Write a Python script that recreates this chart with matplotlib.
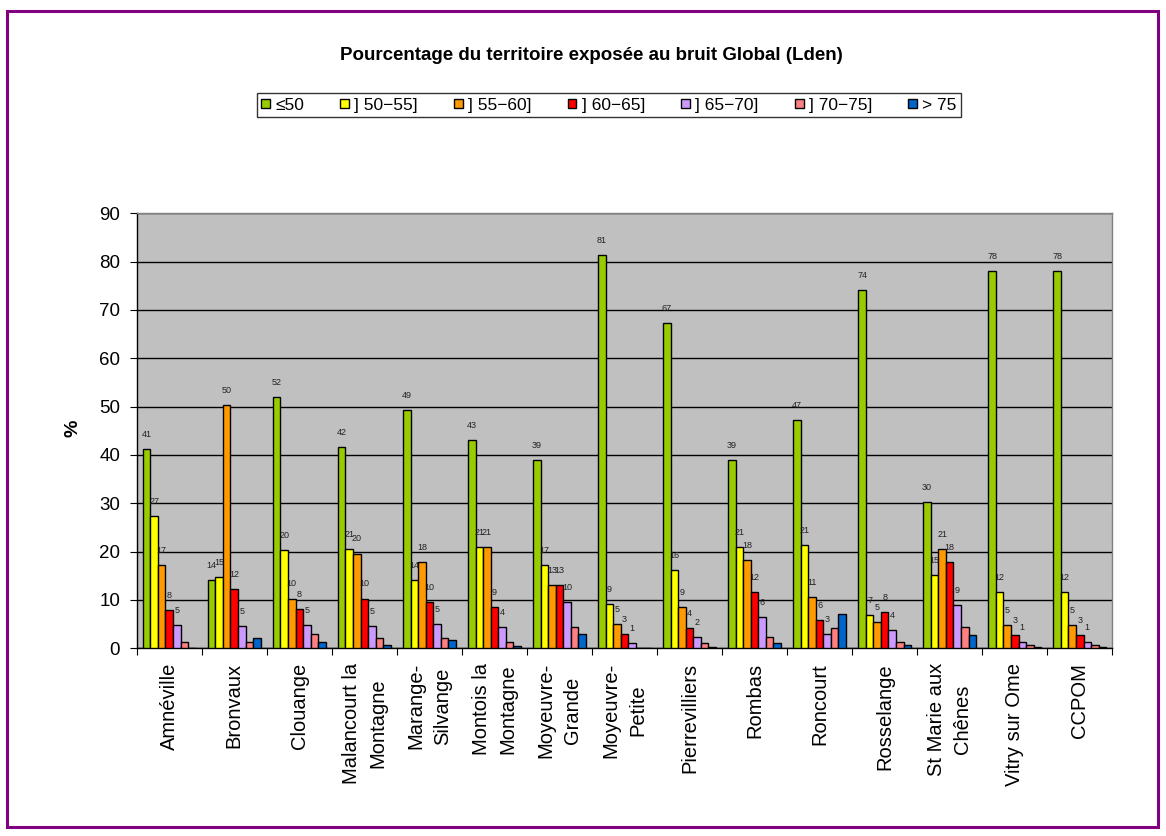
import matplotlib
matplotlib.use("Agg")
import matplotlib.pyplot as plt
import matplotlib.patches as mpatches
import numpy as np

plt.rcParams['font.family'] = ['Liberation Sans', 'DejaVu Sans']

categories = ["Amnéville", "Bronvaux", "Clouange", "Malancourt la\nMontagne",
              "Marange-\nSilvange", "Montois la\nMontagne", "Moyeuvre-\nGrande",
              "Moyeuvre-\nPetite", "Pierrevilliers", "Rombas", "Roncourt",
              "Rosselange", "St Marie aux\nChênes", "Vitry sur Ome", "CCPOM"]

series_names = ["≤50", "] 50−55]", "] 55−60]", "] 60−65]", "] 65−70]", "] 70−75]", "> 75"]

le50   = [41.3, 14.2, 52.0, 41.7, 49.2, 43.0, 38.9, 81.3, 67.2, 38.9, 47.2, 74.1, 30.3, 78.0, 78.0]
s50_55 = [27.3, 14.8, 20.3, 20.6, 14.1, 21.0, 17.2, 9.2, 16.1, 21.0, 21.3, 6.8, 15.1, 11.6, 11.6]
s55_60 = [17.3, 50.3, 10.3, 19.6, 17.9, 21.0, 13.0, 5.1, 8.6, 18.2, 10.6, 5.4, 20.6, 4.8, 4.8]
s60_65 = [8.0, 12.3, 8.2, 10.3, 9.6, 8.6, 13.0, 3.0, 4.1, 11.6, 5.8, 7.5, 17.9, 2.7, 2.7]
s65_70 = [4.8, 4.6, 4.8, 4.6, 5.1, 4.4, 9.6, 1.0, 2.3, 6.4, 3.0, 3.7, 8.9, 1.3, 1.3]
s70_75 = [1.4, 1.3, 3.0, 2.1, 2.1, 1.3, 4.4, 0.0, 1.0, 2.3, 4.1, 1.3, 4.4, 0.6, 0.6]
gt75   = [0.0, 2.1, 1.3, 0.6, 1.8, 0.4, 3.0, 0.0, 0.3, 1.0, 7.2, 0.6, 2.7, 0.3, 0.3]

all_series = [le50, s50_55, s55_60, s60_65, s65_70, s70_75, gt75]
colors = ["#99CC00", "#FFFF00", "#FF9900", "#FF0000", "#CC99FF", "#FF8080", "#0066CC"]
labeled = [True, True, True, True, True, False, False]

W, H = 1166, 836
fig = plt.figure(figsize=(W / 100, H / 100), dpi=100)

# purple outer border
fig.patches.append(mpatches.Rectangle((7 / W, 1 - 827 / H), (1158 - 7) / W, (827 - 11) / H,
                                      transform=fig.transFigure, fill=False,
                                      edgecolor="#800080", linewidth=2.2))

ax = fig.add_axes([136.7 / W, 1 - 648.3 / H, (1112.3 - 136.7) / W, (648.3 - 213.3) / H])
ax.set_facecolor("#C0C0C0")

x = np.arange(len(categories))
bw = 0.116
n = len(all_series)
handles = []
for j, (vals, col) in enumerate(zip(all_series, colors)):
    pos = x + (j - (n - 1) / 2) * bw
    bars = ax.bar(pos, vals, width=bw, color=col, edgecolor="black", linewidth=1.0, zorder=3)
    handles.append(bars)
    if labeled[j]:
        for xp, v in zip(pos, vals):
            ax.annotate(f"{v:.0f}", (xp, v), xytext=(0, 10.5), textcoords="offset points",
                        ha="center", va="center", fontsize=6.5, color="#222222", zorder=4)

ax.set_xlim(-0.5, len(categories) - 0.5)
ax.set_ylim(0, 90)
ax.set_yticks(np.arange(0, 91, 10))
ax.yaxis.grid(True, color="black", linewidth=1.0, zorder=1)
ax.set_axisbelow(True)

ax.set_xticks(np.arange(-0.5, len(categories), 1.0))
ax.set_xticklabels([])
ax.set_xticks(x, minor=True)
ax.set_xticklabels(categories, minor=True, rotation=90, ha="center", va="top",
                   multialignment="center", fontsize=14.5, linespacing=1.5)
ax.tick_params(axis="x", which="major", length=5, direction="out", color="black")
ax.tick_params(axis="x", which="minor", length=0, pad=10.5)
ax.tick_params(axis="y", length=5, direction="out", labelsize=13.5, pad=7)

for s in ["left", "bottom"]:
    ax.spines[s].set_color("black")
    ax.spines[s].set_linewidth(1.0)
for s in ["top", "right"]:
    ax.spines[s].set_color("#808080")
    ax.spines[s].set_linewidth(1.0)

fig.text(72.7 / W, 1 - 428 / H, "%", rotation=90, ha="center", va="center",
         fontsize=14, fontweight="bold")

fig.text(591 / W, 1 - 55 / H, "Pourcentage du territoire exposée au bruit Global (Lden)",
         ha="center", va="center", fontsize=13.5, fontweight="bold")

leg = fig.legend(handles, series_names, loc="lower left", ncol=7, mode="expand",
                 bbox_to_anchor=(257 / W, 1 - 117 / H, (961 - 257) / W, 28 / H),
                 fontsize=12.5, frameon=True, fancybox=False, shadow=False,
                 handlelength=0.5, handleheight=0.5, handletextpad=0.3,
                 borderpad=0.25, borderaxespad=0.0, columnspacing=1.0)
leg.get_frame().set_edgecolor("black")
leg.get_frame().set_linewidth(1.0)

fig.savefig("out.png", dpi=100)
